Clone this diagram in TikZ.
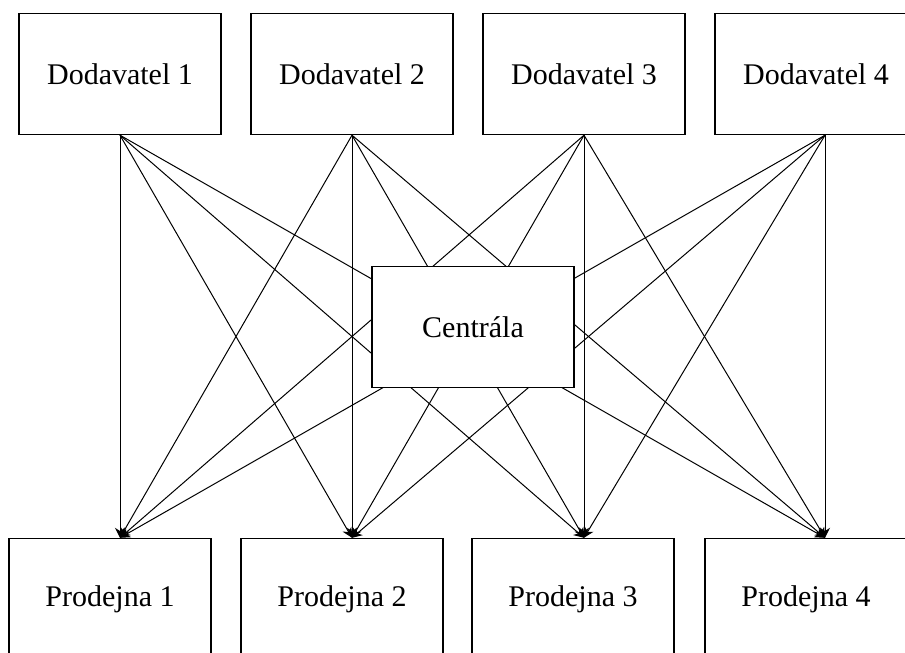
\documentclass[tikz,border=0pt]{standalone}
\usepackage{fontspec}
\setmainfont{Liberation Serif}
\usetikzlibrary{arrows.meta}

\begin{document}
\begin{tikzpicture}[x=1pt,y=-1pt,
  box/.style={draw, line width=1.4pt, minimum width=202pt, minimum height=121pt,
    inner sep=0pt, font=\fontsize{30}{35}\selectfont},
  link/.style={line width=1pt, -{Stealth[length=10pt,width=10pt]}}]
\useasboundingbox (0,0) rectangle (905,653);
\clip (0,0) rectangle (905,653);

\node[box] (d1) at (120,74) {Dodavatel 1};
\node[box] (d2) at (352,74) {Dodavatel 2};
\node[box] (d3) at (584,74) {Dodavatel 3};
\node[box] (d4) at (816,74) {Dodavatel 4};

\node[box] (p1) at (110,599) {Prodejna 1};
\node[box] (p2) at (342,599) {Prodejna 2};
\node[box] (p3) at (573,599) {Prodejna 3};
\node[box] (p4) at (806,599) {Prodejna 4};

\coordinate (s4) at ([xshift=9pt]d4.south);

\coordinate (e1) at (d1.south |- p1.north);
\coordinate (e2) at (d2.south |- p2.north);
\coordinate (e3) at (d3.south |- p3.north);
\coordinate (e4) at (s4 |- p4.north);

\draw[link] (d1.south) -- (e1);
\draw[link] (d1.south) -- (e2);
\draw[link] (d1.south) -- (e3);
\draw[link] (d1.south) -- (e4);

\draw[link] (d2.south) -- (e1);
\draw[link] (d2.south) -- (e2);
\draw[link] (d2.south) -- (e3);
\draw[link] (d2.south) -- (e4);

\draw[link] (d3.south) -- (e1);
\draw[link] (d3.south) -- (e2);
\draw[link] (d3.south) -- (e3);
\draw[link] (d3.south) -- (e4);

\draw[link] (s4) -- (e1);
\draw[link] (s4) -- (e2);
\draw[link] (s4) -- (e3);
\draw[link] (s4) -- (e4);

% centrala lies over the crossing lines
\node[box, fill=white] (c) at (473,327) {Centrála};
\end{tikzpicture}
\end{document}
